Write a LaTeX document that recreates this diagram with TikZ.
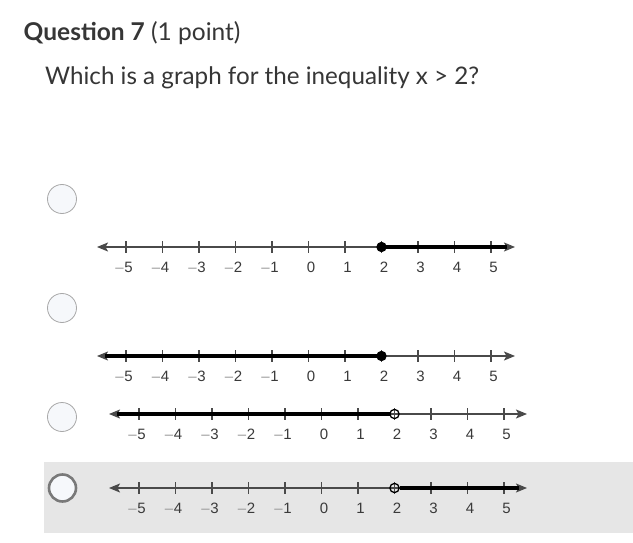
\documentclass[tikz,border=0pt]{standalone}
\usepackage{fontspec}
\setmainfont{Lato}
\newfontfamily\arialf{Liberation Sans}
\usetikzlibrary{arrows.meta}
\definecolor{txt}{HTML}{363636}
\definecolor{labc}{HTML}{3A3A3A}
\definecolor{axisc}{HTML}{4A4A4A}
\definecolor{mgrey}{HTML}{9A9A9A}
\definecolor{radiob}{HTML}{A8A8A8}
\definecolor{radiof}{HTML}{F6F8FB}
\definecolor{hl}{HTML}{E6E6E6}
\tikzset{
  axis/.style={draw=axisc, line width=1.5pt},
  ray/.style={draw=black, line width=3.4pt},
  tickmark/.style={draw=axisc, line width=1.3pt},
  lab/.style={font=\arialf\fontsize{15}{16}\selectfont, text=labc, inner sep=0pt, anchor=center},
  radio/.style={circle, minimum size=29pt, inner sep=0pt, draw=radiob, line width=0.8pt, fill=radiof},
  radiosel/.style={circle, minimum size=27pt, inner sep=0pt, draw=gray!95!black, line width=2.6pt, fill=radiof},
  tips/.style={{Stealth[length=11pt,width=9pt,inset=2.5pt]}-{Stealth[length=11pt,width=9pt,inset=2.5pt]}},
}
\newcommand\myticks[1]{%
  \foreach \k in {-5,...,5}{%
    \pgfmathtruncatemacro\i{\k+5}%
    \pgfmathtruncatemacro\a{abs(\k)}%
    \draw[tickmark] ({\i*36.5},-6) -- ({\i*36.5},6);
    \ifnum\k<0
      \node[lab] (#1lab\i) at ({\i*36.5+2.5},20) {\llap{\color{mgrey}\textendash\kern0.6pt}\a};
    \else
      \node[lab] (#1lab\i) at ({\i*36.5+2.5},20) {\a};
    \fi
  }%
}
\begin{document}
\begin{tikzpicture}[x=1pt,y=-1pt]
\useasboundingbox (0,0) rectangle (633,543);
\fill[white] (0,0) rectangle (633,543);
\fill[hl] (44,462) rectangle (633,533);

\node[anchor=base west, inner sep=0pt, text=txt, font=\fontsize{24.5}{28}\selectfont] (title) at (23.5,40.5) {\textbf{Question 7} (1 point)};
\node[anchor=base west, inner sep=0pt, text=txt, font=\fontsize{24.2}{28}\selectfont] (question) at (45,85) {Which is a graph for the inequality x > 2?};

\node[radio] (r1) at (62,199) {};
\node[radio] (r2) at (62,308) {};
\node[radio] (r3) at (62,417) {};
\node[radiosel] (r4) at (62.5,488) {};

% line 1
\begin{scope}[shift={(126,247)}]
  \coordinate (aL) at (-29,0); \coordinate (aR) at (389,0); \coordinate (aP) at (255.5,0);
  \draw[axis,tips] (aL) -- (aR);
  \myticks{a}
  \draw[ray, shorten >=8pt] (aP) -- (aR);
  \fill[black] (aP) circle (5.2);
\end{scope}

% line 2
\begin{scope}[shift={(126,356)}]
  \coordinate (bL) at (-29,0); \coordinate (bR) at (389,0); \coordinate (bP) at (255.5,0);
  \draw[axis,tips] (bL) -- (bR);
  \myticks{b}
  \draw[ray, shorten <=8pt] (bL) -- (bP);
  \fill[black] (bP) circle (5.2);
\end{scope}

% line 3
\begin{scope}[shift={(139,414)}]
  \coordinate (cL) at (-30,0); \coordinate (cR) at (388,0); \coordinate (cP) at (255.5,0);
  \coordinate (cE) at (250.5,0);
  \draw[axis,tips] (cL) -- (cR);
  \myticks{c}
  \draw[ray, shorten <=8pt] (cL) -- (cE);
  \draw[black, line width=1.3pt] (cP) circle (4.6);
\end{scope}

% line 4
\begin{scope}[shift={(139,488)}]
  \coordinate (dL) at (-30,0); \coordinate (dR) at (388,0); \coordinate (dP) at (255.5,0);
  \coordinate (dE) at (260.5,0);
  \draw[axis,tips] (dL) -- (dR);
  \myticks{d}
  \draw[ray, shorten >=8pt] (dE) -- (dR);
  \draw[black, line width=1.3pt] (dP) circle (4.6);
\end{scope}
\end{tikzpicture}
\end{document}
